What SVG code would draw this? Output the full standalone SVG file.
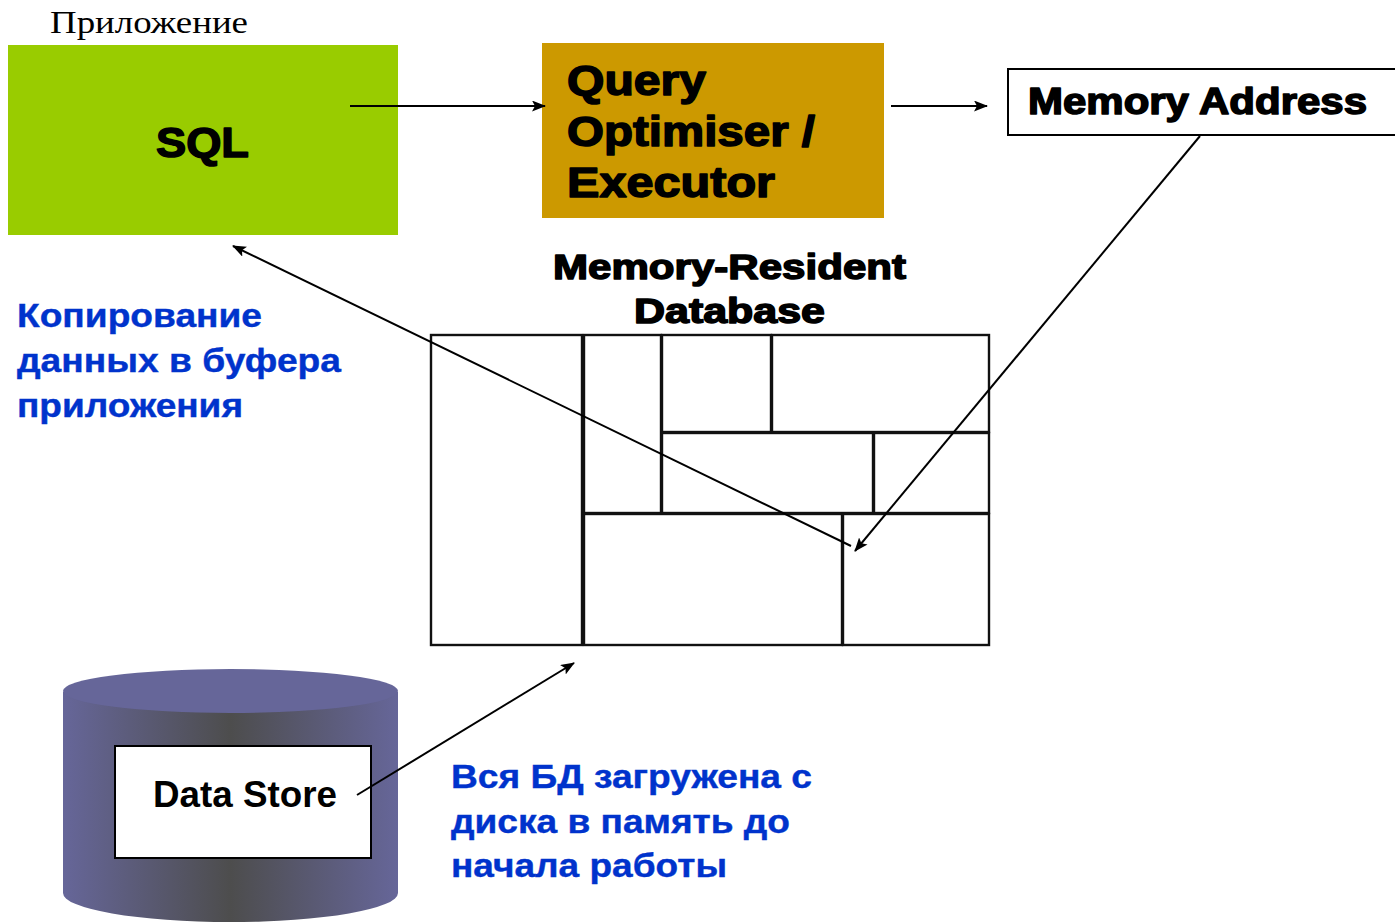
<svg xmlns="http://www.w3.org/2000/svg" width="1395" height="922" viewBox="0 0 1395 922">
  <style>
    .heavy { font-family: "Liberation Sans", Arial, sans-serif; font-weight: bold; fill: #000; stroke: #000; stroke-width: 1.5; stroke-linejoin: round; }
    .bold { font-family: "Liberation Sans", Arial, sans-serif; font-weight: bold; fill: #000; }
    .note { font-family: "Liberation Sans", Arial, sans-serif; font-weight: bold; font-size: 34px; fill: #0033CC; stroke: #0033CC; stroke-width: 0.4; }
    .serif { font-family: "Liberation Serif", "Times New Roman", serif; font-size: 31px; fill: #000; }
    .cell { fill: #fff; stroke: #111; stroke-width: 2.4; }
    .conn { stroke: #000; stroke-width: 2; fill: none; marker-end: url(#head); }
  </style>
  <defs>
    <marker id="head" viewBox="0 0 14 11" refX="13" refY="5.5" markerWidth="14" markerHeight="11" markerUnits="userSpaceOnUse" orient="auto">
      <path d="M0,0 L14,5.5 L0,11 L3,5.5 Z" fill="#000"/>
    </marker>
    <linearGradient id="drum" x1="0" y1="0" x2="1" y2="0">
      <stop offset="0" stop-color="#666699"/>
      <stop offset="0.5" stop-color="#4D4D4D"/>
      <stop offset="1" stop-color="#666699"/>
    </linearGradient>
  </defs>

  <rect width="1395" height="922" fill="#fff"/>

  <!-- application layer -->
  <g id="app-label">
    <text class="serif" x="50" y="33" textLength="198" lengthAdjust="spacingAndGlyphs">Приложение</text>
  </g>
  <g id="sql">
    <rect x="8" y="45" width="390" height="190" fill="#99CC00"/>
    <text class="heavy" x="156" y="157" font-size="42" textLength="93" lengthAdjust="spacingAndGlyphs">SQL</text>
  </g>

  <g id="optimiser">
    <rect x="542" y="43" width="342" height="175" fill="#CC9900"/>
    <text class="heavy" font-size="42">
      <tspan x="567" y="95" textLength="139" lengthAdjust="spacingAndGlyphs">Query</tspan>
      <tspan x="567" y="146" textLength="248" lengthAdjust="spacingAndGlyphs">Optimiser /</tspan>
      <tspan x="567" y="197" textLength="208" lengthAdjust="spacingAndGlyphs">Executor</tspan>
    </text>
  </g>

  <g id="memory-address">
    <rect x="1008" y="69" width="400" height="66" fill="#fff" stroke="#000" stroke-width="2"/>
    <text class="heavy" x="1028" y="114" font-size="36" textLength="339" lengthAdjust="spacingAndGlyphs">Memory Address</text>
  </g>

  <!-- in-memory database blocks -->
  <g id="database">
    <text class="heavy" font-size="35">
      <tspan x="553" y="279" textLength="353" lengthAdjust="spacingAndGlyphs">Memory-Resident</tspan>
      <tspan x="634" y="323" textLength="191" lengthAdjust="spacingAndGlyphs">Database</tspan>
    </text>
    <rect class="cell" x="431" y="335" width="151" height="310"/>
    <rect class="cell" x="584" y="335" width="77" height="178"/>
    <rect class="cell" x="662" y="335" width="109" height="97"/>
    <rect class="cell" x="772" y="335" width="217" height="97"/>
    <rect class="cell" x="662" y="433" width="211" height="80"/>
    <rect class="cell" x="874" y="433" width="115" height="80"/>
    <rect class="cell" x="584" y="514" width="258" height="131"/>
    <rect class="cell" x="843" y="514" width="146" height="131"/>
  </g>

  <!-- disk store -->
  <g id="data-store">
    <path d="M63,692 L63,893 A167.5,29 0 0 0 398,893 L398,692 Z" fill="url(#drum)"/>
    <ellipse cx="230.5" cy="691" rx="167.5" ry="22" fill="#666699"/>
    <rect x="115" y="746" width="256" height="112" fill="#fff" stroke="#000" stroke-width="2"/>
    <text class="bold" x="153" y="807" font-size="36" textLength="184" lengthAdjust="spacingAndGlyphs">Data Store</text>
  </g>

  <!-- annotations -->
  <g id="note-copy">
    <text class="note">
      <tspan x="17" y="327" textLength="245" lengthAdjust="spacingAndGlyphs">Копирование</tspan>
      <tspan x="17" y="372" textLength="324" lengthAdjust="spacingAndGlyphs">данных в буфера</tspan>
      <tspan x="17" y="417" textLength="226" lengthAdjust="spacingAndGlyphs">приложения</tspan>
    </text>
  </g>
  <g id="note-load">
    <text class="note">
      <tspan x="451" y="788" textLength="361" lengthAdjust="spacingAndGlyphs">Вся БД загружена с</tspan>
      <tspan x="451" y="833" textLength="339" lengthAdjust="spacingAndGlyphs">диска в память до</tspan>
      <tspan x="451" y="877" textLength="276" lengthAdjust="spacingAndGlyphs">начала работы</tspan>
    </text>
  </g>

  <!-- connectors -->
  <g id="connectors">
    <line class="conn" x1="350" y1="106" x2="545" y2="106"/>
    <line class="conn" x1="891" y1="106" x2="987" y2="106"/>
    <line class="conn" x1="1200" y1="136" x2="855" y2="551"/>
    <line class="conn" x1="851" y1="546" x2="233" y2="246"/>
    <line class="conn" x1="357" y1="795" x2="574" y2="663"/>
  </g>
</svg>
